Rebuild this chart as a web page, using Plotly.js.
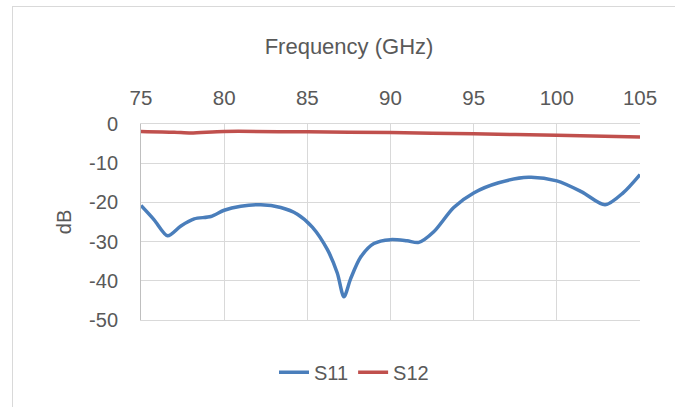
<!DOCTYPE html>
<html>
<head>
<meta charset="utf-8">
<script src="https://cdn.plot.ly/plotly-3.0.1.min.js"></script>
<style>
html,body{margin:0;padding:0;background:#fff;}
#frame{position:absolute;left:12px;top:6px;width:700px;height:420px;border:1px solid #d9d9d9;box-sizing:border-box;}
#chart{position:absolute;left:0;top:0;width:675px;height:407px;}
</style>
</head>
<body>
<div id="frame"></div>
<div id="chart"></div>
<script>
// Data
const freqS11 = [75, 75.8, 76.6, 77.4, 78.2, 79.2, 80, 81, 82.2, 83.4, 84.4, 85.3, 86.2, 86.8, 87.2, 87.6, 88.2, 89, 90, 91, 91.7, 92.6, 93.8, 95, 96.5, 98.3, 100, 101.5, 102.9, 104, 105];
const s11 = [-20.8, -24.5, -28.5, -26.0, -24.2, -23.6, -22.0, -21.0, -20.6, -21.3, -23.0, -26.3, -32, -38, -44.1, -39.5, -34, -30.5, -29.5, -29.8, -30.2, -27.5, -21.3, -17.6, -15, -13.6, -14.5, -17.3, -20.6, -17.5, -12.9];
const freqS12 = [75, 77, 78, 80, 85, 90, 95, 100, 105];
const s12 = [-1.9, -2.1, -2.3, -1.9, -2.0, -2.2, -2.5, -2.9, -3.3];
const xTicks = [75, 80, 85, 90, 95, 100, 105];
const yTicks = [0, -10, -20, -30, -40, -50];
const yTickLabels = ["0", "-10", "-20", "-30", "-40", "-50"];

const fontFam = "Liberation Sans, Arial, sans-serif";
const txtColor = "#595959";
const gridColor = "#d9d9d9";

const traces = [
  {x: freqS11, y: s11, name: "S11", mode: "lines", line: {color: "#4a7ebb", width: 3.5, shape: "spline", smoothing: 0.8}},
  {x: freqS12, y: s12, name: "S12", mode: "lines", line: {color: "#c0504d", width: 3.5, shape: "spline", smoothing: 0.8}}
];

const layout = {
  width: 675, height: 407,
  paper_bgcolor: "rgba(0,0,0,0)", plot_bgcolor: "rgba(0,0,0,0)",
  margin: {l: 141, r: 35, t: 124, b: 87},
  font: {family: fontFam, size: 20, color: txtColor},
  title: {text: "Frequency (GHz)", font: {family: fontFam, size: 22, color: txtColor},
          x: 349/675, xref: "container", xanchor: "center", y: 1 - 46/407, yref: "container", yanchor: "middle"},
  xaxis: {side: "top", range: [75, 105], tickvals: xTicks, ticktext: xTicks.map(String),
          showgrid: true, gridcolor: gridColor, gridwidth: 1, zeroline: false,
          showline: true, linecolor: gridColor, mirror: true, ticks: "", ticklabelstandoff: 10,
          tickfont: {family: fontFam, size: 20.5, color: txtColor}},
  yaxis: {range: [-50, 0], tickvals: yTicks, ticktext: yTickLabels,
          showgrid: true, gridcolor: gridColor, gridwidth: 1, zeroline: false,
          showline: true, linecolor: "#bfbfbf", mirror: false, ticks: "", ticklabelstandoff: 18,
          title: {text: "dB", font: {family: fontFam, size: 20, color: txtColor}, standoff: 12},
          tickfont: {family: fontFam, size: 20, color: txtColor}},
  legend: {orientation: "h", x: (354-141)/499, xanchor: "center", y: -0.266, yanchor: "middle",
           font: {family: fontFam, size: 20, color: txtColor}, bgcolor: "rgba(0,0,0,0)"},
  showlegend: true
};

Plotly.newPlot("chart", traces, layout, {displayModeBar: false, staticPlot: true});
</script>
</body>
</html>
